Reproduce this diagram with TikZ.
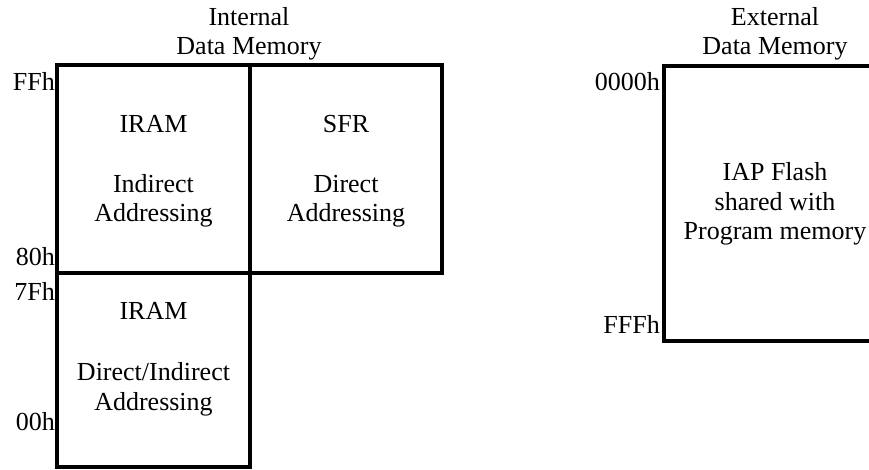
\documentclass[tikz,border=0pt]{standalone}
\usepackage{fontspec}
\setmainfont{Liberation Serif}
\begin{document}
\begin{tikzpicture}[x=1pt,y=-1pt,
    every node/.style={font=\fontsize{26}{29.5}\selectfont,inner sep=0pt,align=center}]
    \tikzstyle{membox}=[draw,line width=3.5pt,minimum width=193pt]
    \tikzstyle{addr}=[anchor=base east]
    \useasboundingbox (0,0) rectangle (869,470);

    % internal data memory blocks
    \node[membox,minimum height=208pt] (IRAM-hi) at (153.5,169) {};
    \node[membox,minimum width=192pt,minimum height=208pt] (SFR) at (346,169) {};
    \node[membox,minimum height=194pt] (IRAM-lo) at (153.5,370) {};

    % multi-line texts sit on the baseline of their last line
    \node[anchor=base] (int-head) at (249,55) {Internal\\Data Memory};
    \node[anchor=base] (hi-name) at (IRAM-hi.center |- 0,133) {IRAM};
    \node[anchor=base] (hi-mode) at (IRAM-hi.center |- 0,222) {Indirect\\Addressing};
    \node[anchor=base] (sfr-name) at (SFR.center |- 0,133) {SFR};
    \node[anchor=base] (sfr-mode) at (SFR.center |- 0,222) {Direct\\Addressing};
    \node[anchor=base] (lo-name) at (IRAM-lo.center |- 0,319) {IRAM};
    \node[anchor=base] (lo-mode) at (IRAM-lo.center |- 0,410) {Direct/Indirect\\Addressing};

    % address marks
    \node[addr] (a-FF) at (55,91) {FFh};
    \node[addr] (a-80) at (55,265) {80h};
    \node[addr] (a-7F) at (55,300) {7Fh};
    \node[addr] (a-00) at (55,430) {00h};

    % external data memory, open on the right
    \coordinate (E-tr) at (885,66);
    \coordinate (E-tl) at (664,66);
    \coordinate (E-bl) at (664,341);
    \coordinate (E-br) at (885,341);
    \draw[line width=3.5pt] (E-tr) -- (E-tl) -- (E-bl) -- (E-br);

    \node[anchor=base] (ext-head) at (775,55) {External\\Data Memory};
    \node[anchor=base] (ext-text) at (775,240) {IAP Flash\\shared with\\Program memory};
    \node[addr] (a-0000) at (660,91) {0000h};
    \node[addr] (a-FFF) at (660,333) {FFFh};
\end{tikzpicture}
\end{document}
